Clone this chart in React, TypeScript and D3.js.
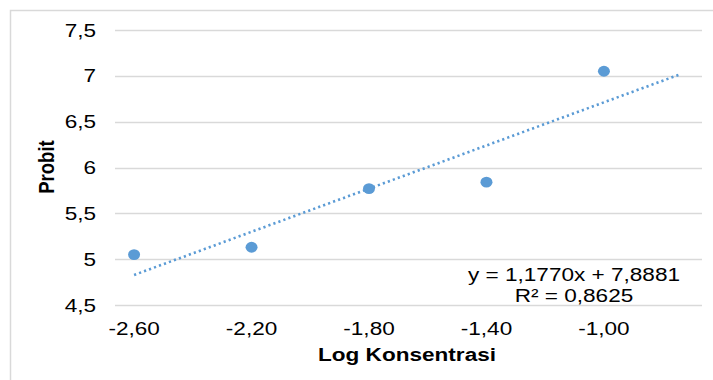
import React from 'react';
import * as d3 from 'd3';

const logConc = [-2.6, -2.2, -1.8, -1.4, -1.0];
const probit = [5.05, 5.13, 5.77, 5.84, 7.05];
const xTicks = [-2.6, -2.2, -1.8, -1.4, -1.0];
const yTicks = [4.5, 5, 5.5, 6, 6.5, 7, 7.5];
const trendEnds = [-2.6, -0.74];
const slope = 1.177;
const icpt = 7.8881;
const eqLabel = 'y = 1,1770x + 7,8881';
const r2Label = 'R² = 0,8625';

const W = 713;
const H = 380;
const blue = '#5B9BD5';
const grid = '#D9D9D9';
const font = '"Liberation Sans", Arial, sans-serif';
const SX = 1.22;
const FS = 18.5;

const comma = (v: number, d: number) => v.toFixed(d).replace('.', ',');

export default function App() {
  const x = d3.scaleLinear().domain([-2.665, -0.666]).range([115, 702]);
  const y = d3.scaleLinear().domain([4.5, 7.5]).range([305, 30]);

  const line = d3.line<number>()
    .x((d) => x(d))
    .y((d) => y(slope * d + icpt));

  const txt = (tx: number, ty: number, s: string, extra: any = {}) => (
    <text
      transform={`translate(${tx},${ty}) scale(${SX},1)`}
      fontFamily={font}
      fontSize={FS}
      fill="#000"
      {...extra}
    >
      {s}
    </text>
  );

  return (
    <svg width={W} height={H} style={{ position: 'absolute', left: 0, top: 0 }}>
      <rect x={0} y={0} width={W} height={H} fill="#fff" />
      <rect x={10.5} y={10.5} width={W + 10} height={H + 10} fill="none" stroke={grid} strokeWidth={1.5} />

      <g>
        {yTicks.map((t) => (
          <line key={t} x1={115} x2={702} y1={Math.round(y(t)) + 0.5} y2={Math.round(y(t)) + 0.5} stroke={grid} strokeWidth={1.3} />
        ))}
      </g>

      <g>
        {yTicks.map((t) =>
          txt(96, y(t) + 6.5, t % 1 === 0 ? String(t) : comma(t, 1), { key: t, textAnchor: 'end' })
        )}
      </g>

      <g>
        {xTicks.map((t) =>
          txt(x(t), 335, comma(t, 2), { key: t, textAnchor: 'middle' })
        )}
      </g>

      <path
        d={line(trendEnds) as string}
        fill="none"
        stroke={blue}
        strokeWidth={2.6}
        strokeDasharray="2.2 3.1"
      />

      <g>
        {logConc.map((v, i) => (
          <ellipse key={v} cx={x(v)} cy={y(probit[i])} rx={6} ry={5.4} fill={blue} />
        ))}
      </g>

      {txt(574, 281, eqLabel, { textAnchor: 'middle' })}
      {txt(574, 302, r2Label, { textAnchor: 'middle' })}

      <text
        transform={`translate(407,361) scale(${SX},1)`}
        fontFamily={font}
        fontSize={FS}
        fontWeight="bold"
        textAnchor="middle"
      >
        Log Konsentrasi
      </text>
      <text
        transform={`translate(54,167) rotate(-90) scale(1,${SX})`}
        fontFamily={font}
        fontSize={FS}
        fontWeight="bold"
        textAnchor="middle"
      >
        Probit
      </text>
    </svg>
  );
}
